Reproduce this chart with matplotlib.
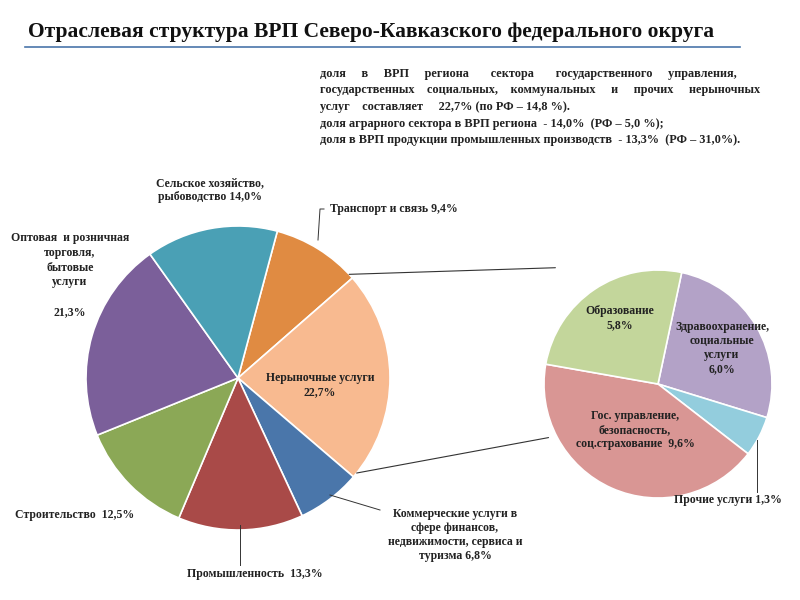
import matplotlib
matplotlib.use("Agg")
import matplotlib.pyplot as plt
import numpy as np
from matplotlib.patches import ConnectionPatch

main_labels = ["Транспорт и связь", "Нерыночные услуги", "Коммерческие услуги", "Промышленность",
               "Строительство", "Оптовая и розничная торговля", "Сельское хозяйство"]
main_values = [9.4, 22.7, 6.8, 13.3, 12.5, 21.3, 14.0]
main_colors = ["#E08B42", "#F8BA90", "#4A76AA", "#A94A48", "#8BA856", "#7B5F9A", "#4AA0B5"]

sub_labels = ["Здравоохранение", "Прочие услуги", "Гос. управление", "Образование"]
sub_values = [6.0, 1.3, 9.6, 5.8]
sub_colors = ["#B3A2C7", "#93CDDD", "#D99694", "#C3D69B"]

plt.rcParams["font.family"] = "Liberation Serif"
fig = plt.figure(figsize=(8, 6), dpi=100)

def T(x, y, s, **kw):
    kw.setdefault("fontsize", 8.5)
    kw.setdefault("fontweight", "bold")
    kw.setdefault("color", "#222222")
    fig.text(x / 800, 1 - y / 600, s, **kw)

ax1 = fig.add_axes([86/800, 1-530/600, 304/800, 304/600])
w1, _ = ax1.pie(main_values, colors=main_colors, startangle=75, counterclock=False,
                wedgeprops=dict(edgecolor="white", linewidth=1.2))
ax1.set_xlim(-1, 1); ax1.set_ylim(-1, 1); ax1.set_aspect("equal")
ax2 = fig.add_axes([544/800, 1-498/600, 228/800, 228/600])
w2, _ = ax2.pie(sub_values, colors=sub_colors, startangle=78, counterclock=False,
                wedgeprops=dict(edgecolor="white", linewidth=1.2))
ax2.set_xlim(-1, 1); ax2.set_ylim(-1, 1); ax2.set_aspect("equal")

# connector lines
for ang, tgt in [(43, (-0.9, 1.02)), (-38.7, (-0.96, -0.47))]:
    a = np.deg2rad(ang)
    con = ConnectionPatch(xyA=(np.cos(a), np.sin(a)), coordsA=ax1.transData,
                          xyB=tgt, coordsB=ax2.transData, color="#333333", lw=0.8)
    fig.add_artist(con)

T(28, 32, "Отраслевая структура ВРП Северо-Кавказского федерального округа",
  fontsize=15.5, ha="left", va="center", color="#111111")
fig.add_artist(plt.Line2D([25/800, 740/800], [1-47/600, 1-47/600], color="#4A76AA", lw=1.2))

txt = ("доля     в     ВРП     региона       сектора       государственного     управления,\n"
       "государственных    социальных,    коммунальных     и     прочих     нерыночных\n"
       "услуг    составляет     22,7% (по РФ – 14,8 %).\n"
       "доля аграрного сектора в ВРП региона  - 14,0%  (РФ – 5,0 %);\n"
       "доля в ВРП продукции промышленных производств  - 13,3%  (РФ – 31,0%).")
T(320, 68, txt, fontsize=8.8, va="top", linespacing=1.5)

T(210, 190, "Сельское хозяйство,\nрыбоводство 14,0%", ha="center", va="center")
T(330, 209, "Транспорт и связь 9,4%", va="center")
fig.add_artist(plt.Line2D([324/800, 320/800, 318/800], [1-209/600, 1-209/600, 1-240/600], color="#333", lw=0.7))
T(70, 275, "Оптовая  и розничная\nторговля,\nбытовые\nуслуги\n\n21,3%", ha="center", va="center", linespacing=1.3)
T(320, 385, "Нерыночные услуги\n22,7%", ha="center", va="center")
T(75, 515, "Строительство  12,5%", ha="center", va="center")
T(255, 574, "Промышленность  13,3%", ha="center", va="center")
fig.add_artist(plt.Line2D([240/800, 240/800], [1-525/600, 1-565/600], color="#333", lw=0.7))
T(455, 535, "Коммерческие услуги в\nсфере финансов,\nнедвижимости, сервиса и\nтуризма 6,8%", ha="center", va="center")
fig.add_artist(plt.Line2D([330/800, 380/800], [1-495/600, 1-510/600], color="#333", lw=0.7))

T(620, 318, "Образование\n5,8%", ha="center", va="center")
T(722, 348, "Здравоохранение,\nсоциальные\nуслуги\n6,0%", ha="center", va="center")
T(635, 430, "Гос. управление,\nбезопасность,\nсоц.страхование  9,6%", ha="center", va="center")
T(728, 500, "Прочие услуги 1,3%", ha="center", va="center")
fig.add_artist(plt.Line2D([757/800, 757/800], [1-440/600, 1-492/600], color="#333", lw=0.7))

fig.savefig("out.png", dpi=100, facecolor="white")
